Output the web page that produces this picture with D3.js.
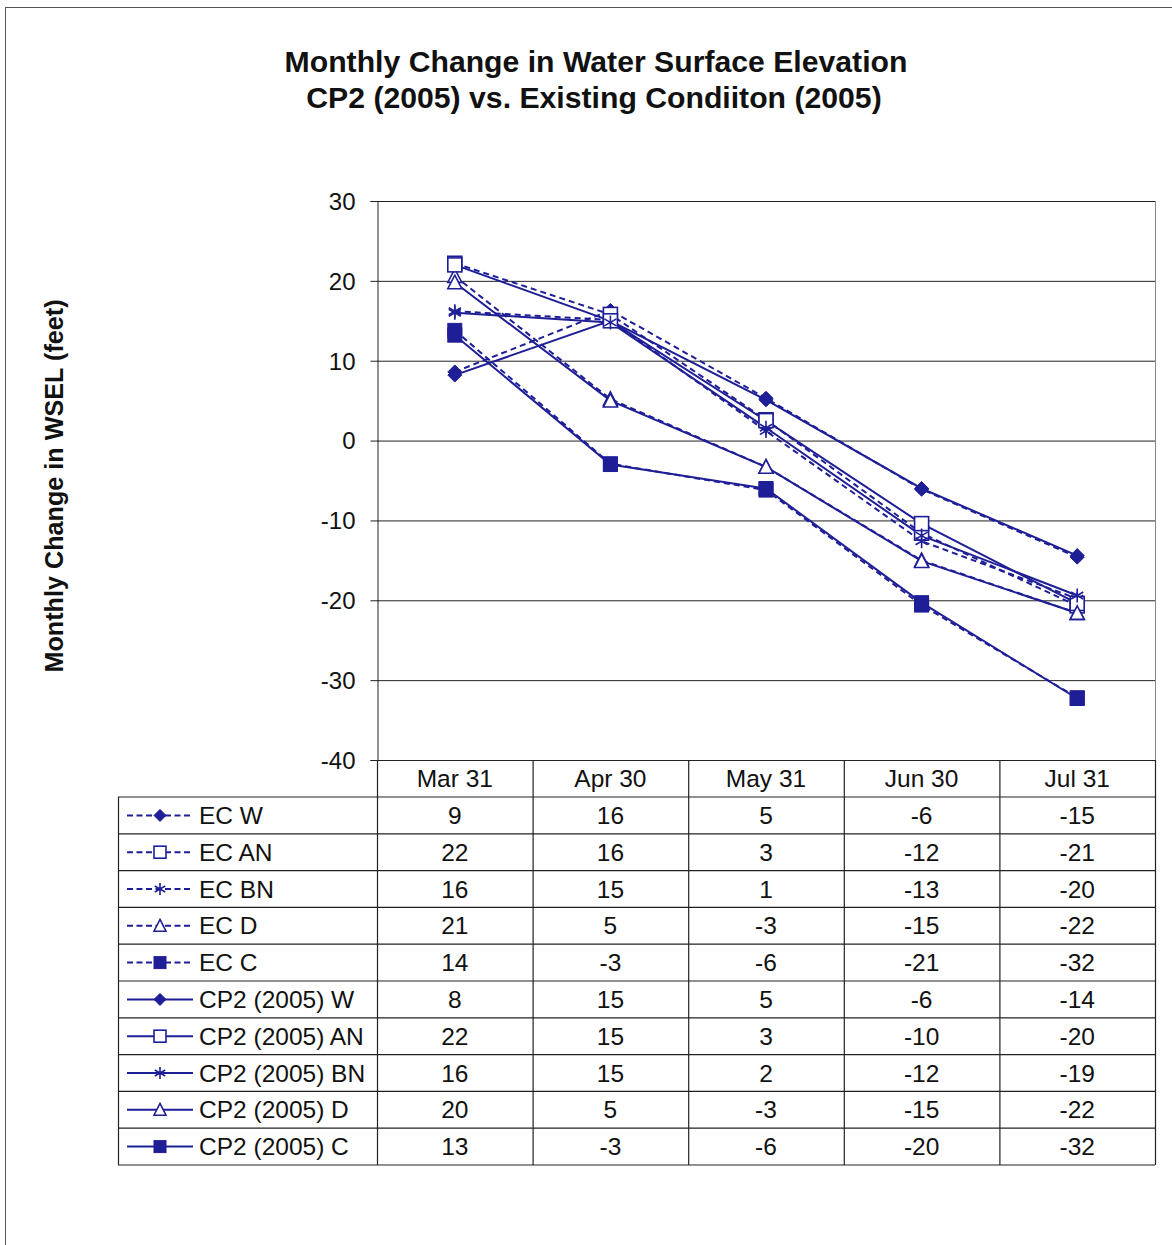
<!DOCTYPE html>
<html><head><meta charset="utf-8">
<script src="https://cdn.jsdelivr.net/npm/d3@7/dist/d3.min.js"></script>
<style>body{margin:0;background:#fff}svg{display:block;font-family:"Liberation Sans",Arial,sans-serif}</style>
</head><body>
<script>
const categories = ["Mar 31","Apr 30","May 31","Jun 30","Jul 31"];
const seriesNames = ["EC W","EC AN","EC BN","EC D","EC C","CP2 (2005) W","CP2 (2005) AN","CP2 (2005) BN","CP2 (2005) D","CP2 (2005) C"];
const ecW   = [8.6, 16.3, 5.3, -6.1, -14.6];
const ecAN  = [22.2, 15.8, 2.6, -11.6, -20.7];
const ecBN  = [16.2, 15.1, 1.2, -12.6, -19.8];
const ecD   = [20.6, 5.2, -3.3, -15.0, -21.6];
const ecC   = [13.8, -2.9, -6.2, -20.6, -32.2];
const cpW   = [8.2, 15.0, 5.1, -6.0, -14.4];
const cpAN  = [22.0, 15.0, 2.5, -10.4, -20.4];
const cpBN  = [16.0, 14.8, 1.6, -11.9, -19.4];
const cpD   = [19.8, 5.0, -3.3, -15.1, -21.6];
const cpC   = [13.2, -3.0, -6.0, -20.3, -32.3];
const tableValues = [
  [9,16,5,-6,-15],[22,16,3,-12,-21],[16,15,1,-13,-20],[21,5,-3,-15,-22],[14,-3,-6,-21,-32],
  [8,15,5,-6,-14],[22,15,3,-10,-20],[16,15,2,-12,-19],[20,5,-3,-15,-22],[13,-3,-6,-20,-32]
];
const yTicks = [30,20,10,0,-10,-20,-30,-40];
const markers = ["diamond","square-open","star","triangle-open","square","diamond","square-open","star","triangle-open","square"];
const dashed = [true,true,true,true,true,false,false,false,false,false];
const seriesData = [ecW,ecAN,ecBN,ecD,ecC,cpW,cpAN,cpBN,cpD,cpC];

(function(){
const W = 1172, H = 1245;
const color = "#1e1e96";
const ink = "#111";
const fs = 24.5;
const svg = d3.select("body").append("svg").attr("width", W).attr("height", H);

svg.append("rect").attr("x",5.5).attr("y",7.5).attr("width",W+10).attr("height",H+10)
  .attr("fill","none").attr("stroke","#555").attr("stroke-width",1);

svg.append("text").attr("x",596).attr("y",72).attr("text-anchor","middle")
  .attr("font-size",30.2).attr("font-weight","bold").attr("fill",ink)
  .text("Monthly Change in Water Surface Elevation");
svg.append("text").attr("x",594).attr("y",108).attr("text-anchor","middle")
  .attr("font-size",30.2).attr("font-weight","bold").attr("fill",ink)
  .text("CP2 (2005) vs. Existing Condiiton (2005)");

const pLeft = 377, pRight = 1155, pTop = 201, pBottom = 760;
const x = d3.scaleBand().domain(categories).range([pLeft, pRight]);
const y = d3.scaleLinear().domain([-40, 30]).range([pBottom, pTop]);

svg.append("g").selectAll("line").data(yTicks.filter(t => t !== -40)).join("line")
  .attr("x1", pLeft).attr("x2", pRight).attr("y1", d => y(d)+0.5).attr("y2", d => y(d)+0.5)
  .attr("stroke","#222").attr("stroke-width",1);
svg.append("line").attr("x1",pRight+0.5).attr("x2",pRight+0.5).attr("y1",pTop).attr("y2",pBottom)
  .attr("stroke","#888");

const yAxis = svg.append("g").attr("transform",`translate(${pLeft+0.5},0)`)
  .call(d3.axisLeft(y).tickValues(yTicks).tickSize(7).tickFormat(d => String(d)));
yAxis.select(".domain").attr("stroke","#222");
yAxis.selectAll(".tick line").attr("stroke","#222");
yAxis.selectAll(".tick text").attr("font-size",fs-0.5).attr("fill",ink)
  .attr("font-family","'Liberation Sans',Arial,sans-serif").attr("x",-22).attr("dy","0.35em");

svg.append("text").attr("transform","translate(63,486) rotate(-90)").attr("text-anchor","middle")
  .attr("font-size",25.2).attr("font-weight","bold").attr("fill",ink)
  .text("Monthly Change in WSEL (feet)");

function drawMarker(g, type, cx, cy, s) {
  if (type === "diamond") {
    const r = s/2;
    g.append("path").attr("d",`M${cx},${cy-r}L${cx+r},${cy}L${cx},${cy+r}L${cx-r},${cy}Z`)
      .attr("fill",color).attr("stroke",color).attr("stroke-width",1);
  } else if (type === "square") {
    g.append("rect").attr("x",cx-s/2).attr("y",cy-s/2).attr("width",s).attr("height",s)
      .attr("fill",color).attr("stroke",color);
  } else if (type === "square-open") {
    g.append("rect").attr("x",cx-s/2).attr("y",cy-s/2).attr("width",s).attr("height",s)
      .attr("fill","#fff").attr("stroke",color).attr("stroke-width",1.6);
  } else if (type === "triangle-open") {
    const h = s*0.9;
    g.append("path").attr("d",`M${cx},${cy-h/2-1}L${cx+s/2},${cy+h/2}L${cx-s/2},${cy+h/2}Z`)
      .attr("fill","#fff").attr("stroke",color).attr("stroke-width",1.6);
  } else if (type === "star") {
    const r = s/2;
    const p = [];
    for (let i=0;i<3;i++){ const a = Math.PI/2 + i*Math.PI/3; p.push(`M${cx+r*Math.cos(a)},${cy+r*Math.sin(a)}L${cx-r*Math.cos(a)},${cy-r*Math.sin(a)}`); }
    g.append("path").attr("d",p.join("")).attr("stroke",color).attr("stroke-width",1.6).attr("fill","none");
  }
}

const line = d3.line().x((d,i) => x(categories[i]) + x.bandwidth()/2).y(d => y(d));
const gl = svg.append("g");
seriesData.forEach((data, k) => {
  gl.append("path").attr("d", line(data)).attr("fill","none").attr("stroke",color)
    .attr("stroke-width",2).attr("stroke-dasharray", dashed[k] ? "6,4" : null);
});
seriesData.forEach((data, k) => {
  data.forEach((v,i) => drawMarker(gl, markers[k], x(categories[i]) + x.bandwidth()/2, y(v), 14));
});

const tLeft = 118, rowH = 36.8, headTop = pBottom, headBot = pBottom + 37;
const tBottom = headBot + rowH*seriesNames.length;
const tg = svg.append("g").attr("stroke","#222").attr("stroke-width",1.2);
tg.append("line").attr("x1",pLeft).attr("x2",pRight).attr("y1",headTop+0.5).attr("y2",headTop+0.5);
for (let r=0;r<=seriesNames.length;r++){
  const yy = headBot + r*rowH;
  tg.append("line").attr("x1",tLeft).attr("x2",pRight).attr("y1",yy).attr("y2",yy);
}
tg.append("line").attr("x1",tLeft+0.5).attr("x2",tLeft+0.5).attr("y1",headBot).attr("y2",tBottom);
const vx = [pLeft].concat(categories.map(c => x(c) + x.bandwidth()));
vx.forEach(v => tg.append("line").attr("x1",v+0.5).attr("x2",v+0.5).attr("y1",headTop).attr("y2",tBottom));

svg.append("g").selectAll("text").data(categories).join("text")
  .attr("x", d => x(d)+x.bandwidth()/2).attr("y", headTop + 27).attr("text-anchor","middle")
  .attr("font-size",fs).attr("fill",ink).text(d => d);

seriesNames.forEach((name, r) => {
  const cy = headBot + r*rowH + rowH/2;
  tableValues[r].forEach((v,i) => {
    svg.append("text").attr("x", x(categories[i])+x.bandwidth()/2).attr("y", cy+8.5)
      .attr("text-anchor","middle").attr("font-size",fs).attr("fill",ink).text(v);
  });
  const lg = svg.append("g");
  lg.append("line").attr("x1",127).attr("x2",193).attr("y1",cy).attr("y2",cy)
    .attr("stroke",color).attr("stroke-width",2).attr("stroke-dasharray", dashed[r] ? "6,3.5" : null);
  drawMarker(lg, markers[r], 160, cy, 12);
  svg.append("text").attr("x",199).attr("y",cy+8.5).attr("font-size",fs).attr("fill",ink).text(name);
});
})();
</script>
</body></html>
